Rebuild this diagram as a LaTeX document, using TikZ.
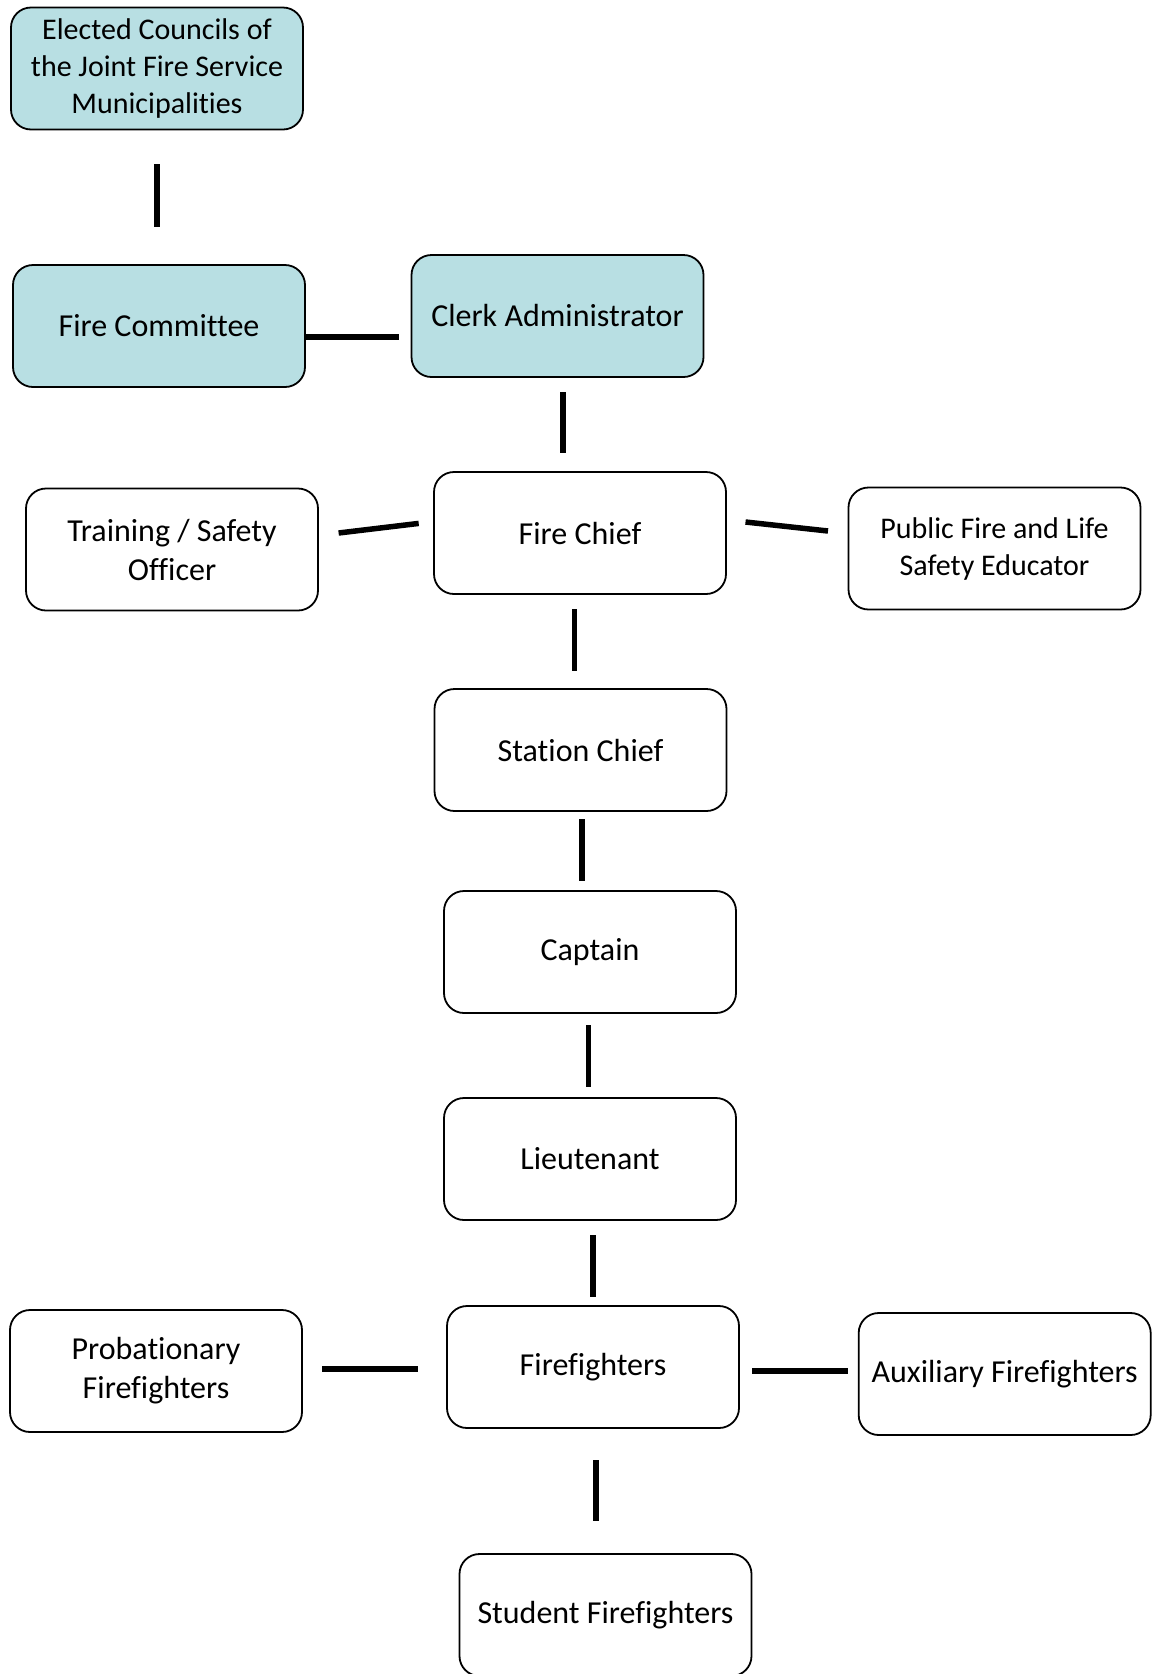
\documentclass[tikz,border=0pt]{standalone}
\usepackage{fontspec}
\setmainfont{Carlito}[Ligatures=NoCommon]
\definecolor{boxblue}{RGB}{184,223,227}
\begin{document}
\begin{tikzpicture}[x=1pt,y=-1pt,
  box/.style={draw=black,line width=1.8pt,rounded corners=20pt,minimum width=292pt,minimum height=122pt,align=center,inner sep=0pt,font=\fontsize{32}{39}\selectfont},
  bluebox/.style={box,fill=boxblue},
  smalltext/.style={font=\fontsize{30}{37}\selectfont},
  conn/.style={line width=5.5pt}]
\useasboundingbox (0,0) rectangle (1161,1674);
\clip (0,0) rectangle (1161,1674);
\node[bluebox,smalltext] (E) at (157,68.5) {Elected Councils of\\the Joint Fire Service\\Municipalities};
\node[bluebox] (FC) at (159,326) {Fire Committee};
\node[bluebox] (CA) at (557.5,316) {Clerk Administrator};
\node[box] (FCh) at (580,533) {Fire Chief};
\node[box] (TS) at (172,549.5) {Training / Safety\\Officer};
\node[box,smalltext] (PF) at (994.5,548.5) {Public Fire and Life\\Safety Educator};
\node[box] (SC) at (580.5,750) {Station Chief};
\node[box] (Cap) at (590,952) {Captain};
\node[box] (Lt) at (590,1159) {Lieutenant};
\node[box] (FF) at (593,1367) {Firefighters};
\node[box] (Prob) at (156,1371) {Probationary\\Firefighters};
\node[box] (Aux) at (1004.7,1374) {Auxiliary Firefighters};
\node[box] (Stu) at (605.5,1615) {Student Firefighters};
% connector end points
\coordinate (c1a) at (157,164);   \coordinate (c1b) at (157,227);
\coordinate (c2a) at (306,337);   \coordinate (c2b) at (399,337);
\coordinate (c3a) at (563,392);   \coordinate (c3b) at (563,453);
\coordinate (c4a) at (338.6,533); \coordinate (c4b) at (418.7,523.4);
\coordinate (c5a) at (745.5,522); \coordinate (c5b) at (828,531);
\coordinate (c6a) at (574.6,609); \coordinate (c6b) at (574.6,671);
\coordinate (c7a) at (582,819);   \coordinate (c7b) at (582,881);
\coordinate (c8a) at (588.5,1025);\coordinate (c8b) at (588.5,1087);
\coordinate (c9a) at (592.8,1235);\coordinate (c9b) at (592.8,1297);
\coordinate (c10a) at (322,1369); \coordinate (c10b) at (418,1369);
\coordinate (c11a) at (752,1371); \coordinate (c11b) at (848,1371);
\coordinate (c12a) at (596,1460); \coordinate (c12b) at (596,1521);
\draw[conn] (c1a) -- (c1b);
\draw[conn] (c2a) -- (c2b);
\draw[conn] (c3a) -- (c3b);
\draw[conn] (c4a) -- (c4b);
\draw[conn] (c5a) -- (c5b);
\draw[conn] (c6a) -- (c6b);
\draw[conn] (c7a) -- (c7b);
\draw[conn] (c8a) -- (c8b);
\draw[conn] (c9a) -- (c9b);
\draw[conn] (c10a) -- (c10b);
\draw[conn] (c11a) -- (c11b);
\draw[conn] (c12a) -- (c12b);
\end{tikzpicture}
\end{document}
